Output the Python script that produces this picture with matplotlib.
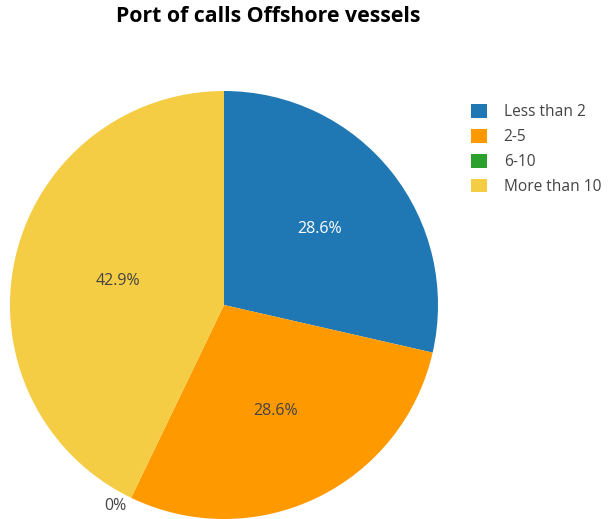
import matplotlib
matplotlib.use("Agg")
import numpy as np
import matplotlib.pyplot as plt
from matplotlib.patches import Patch

plt.rcParams['font.family'] = ['Open Sans', 'DejaVu Sans']

# Port call counts per group
categories = ["Less than 2", "2-5", "6-10", "More than 10"]
values = [2, 2, 0, 3]
colors = ["#1f77b4", "#ff9900", "#2ca02c", "#f4cd45"]
label_colors = ["white", "#444444", "#444444", "#444444"]
label_dist = [0.57, 0.55, 1.045, 0.51]

fig = plt.figure(figsize=(6.08, 5.19), dpi=100)
ax = fig.add_axes([10 / 608, 0.0, 428 / 608, 428 / 519])

wedges, texts, autotexts = ax.pie(
    values, colors=colors, startangle=90, counterclock=False,
    autopct="%1.1f%%", pctdistance=0.55, radius=1.0,
    wedgeprops=dict(linewidth=0),
    textprops=dict(fontsize=11.5, color="#444444"),
)
ax.set_xlim(-1, 1)
ax.set_ylim(-1, 1)
ax.set_aspect("equal")

for t, c, v, w, d in zip(autotexts, label_colors, values, wedges, label_dist):
    t.set_color(c)
    ang = np.deg2rad((w.theta1 + w.theta2) / 2)
    t.set_position((d * np.cos(ang), d * np.sin(ang)))
    if v == 0:
        # zero slice label goes outside the pie
        t.set_text("0%")
        t.set_ha("right")
        t.set_va("center")

fig.text(268 / 608, 1 - 16 / 519, "Port of calls Offshore vessels", ha="center", va="center",
         fontsize=15.3, fontweight="bold", color="black")

handles = [Patch(facecolor=c, edgecolor="none") for c in colors]
fig.legend(handles, categories, loc="upper left", bbox_to_anchor=(457 / 608, 1 - 90 / 519),
           frameon=False, fontsize=11.2, handlelength=1.0, handleheight=1.0,
           handletextpad=1.1, labelspacing=0.55, labelcolor="#444444")

fig.savefig("out.png", dpi=100)
